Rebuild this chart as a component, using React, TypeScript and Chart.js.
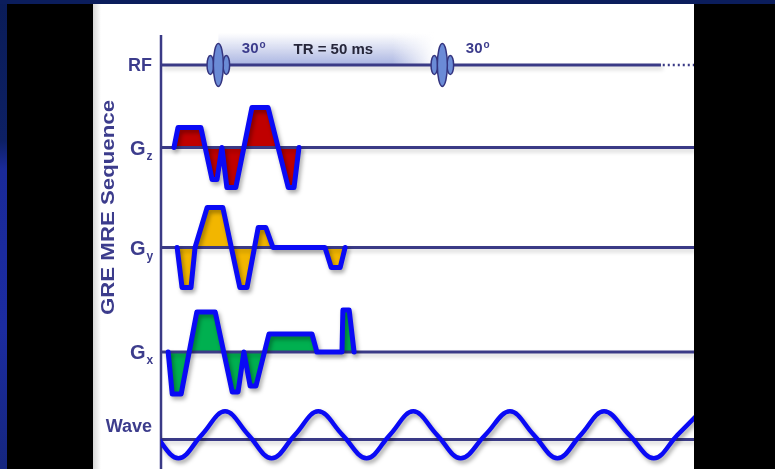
import React, { useEffect, useRef } from 'react';
import { Chart, registerables } from 'chart.js';

Chart.register(...registerables);

// ---------------- data (time in ms, amplitudes in arbitrary units) ----------------
const CHANNELS = ['RF', 'Gz', 'Gy', 'Gx', 'Wave'];
const TITLE = 'GRE MRE Sequence';

const RF_PULSE_T = [12.8, 62.8];
const RF_FLIP_LABELS = ['30', '30'];
const TR_LABEL = 'TR = 50 ms';
const RF_SOLID_END_T = 111.6;
const TIME_END = 119;

const GZ_T = [2.9, 3.8, 8.9, 11.4, 12.5, 13.6, 14.7, 16.7, 20.3, 23.9, 28.4, 29.7, 30.8];
const GZ_AMP = [0, 0.5, 0.5, -0.8, -0.8, 0, -1.0, -1.0, 1.0, 1.0, -1.0, -1.0, 0];

const GY_T = [3.6, 4.7, 6.7, 7.6, 10.3, 13.8, 17.6, 19.2, 21.7, 23.4, 25.0, 36.6, 38.0, 40.0, 41.1];
const GY_AMP = [0, -1.0, -1.0, 0, 1.0, 1.0, -1.0, -1.0, 0.5, 0.5, 0, 0, -0.5, -0.5, 0];

const GX_T = [1.6, 2.5, 4.5, 8.0, 12.1, 15.9, 17.2, 18.5, 19.9, 21.2, 24.1, 33.7, 34.8, 40.4, 40.6, 42.0, 43.1];
const GX_AMP = [0, -1.05, -1.05, 1.0, 1.0, -1.0, -1.0, 0, -0.85, -0.85, 0.45, 0.45, 0, 0, 1.05, 1.05, 0];

const WAVE_T = [-1.4, 3.9, 9.1, 14.3, 19.5, 24.7, 29.9, 35.1, 40.5, 45.9, 51.1, 56.3, 61.6, 66.9, 72.4, 77.9, 83.2, 88.5, 93.7, 98.9, 104.5, 110.0, 115.3, 120.5];
const WAVE_AMP = [0.2, -0.8, 0.2, 1.2, 0.2, -0.8, 0.2, 1.2, 0.2, -0.8, 0.2, 1.2, 0.2, -0.8, 0.2, 1.2, 0.2, -0.8, 0.2, 1.2, 0.2, -0.8, 0.2, 1.2];

// ---------------- layout & style ----------------
const PANEL = { left: 93, top: 4, width: 601, height: 465 };
const AXIS_PX = 68;
const PX_PER_MS = 4.48;
const BASE_PX: Record<string, number> = { RF: 61, Gz: 143.5, Gy: 243.5, Gx: 348, Wave: 435.5 };
const PX_PER_UNIT: Record<string, number> = { RF: 21.5, Gz: 40, Gy: 40, Gx: 40, Wave: 23.5 };
const LABEL_DY: Record<string, number> = { RF: 1, Gz: 1.5, Gy: 2, Gx: 1.5, Wave: -12.5 };

const NAVY = '#3a3a86';
const LABEL_COLOR = '#3c3c8c';
const BLUE = '#0a0af5';
const FILLS: Record<string, string> = { Gz: '#c00000', Gy: '#f2b600', Gx: '#00b050' };
const FONT = '"Liberation Sans", Arial, Helvetica, sans-serif';

const pts = (t: number[], v: number[]) => t.map((x, i) => ({ x, y: v[i] }));

const yScale = (key: string) => ({
  type: 'linear' as const,
  display: false,
  min: -(PANEL.height - BASE_PX[key]) / PX_PER_UNIT[key],
  max: BASE_PX[key] / PX_PER_UNIT[key],
});

const GRADS = [
  { key: 'Gz', t: GZ_T, v: GZ_AMP },
  { key: 'Gy', t: GY_T, v: GY_AMP },
  { key: 'Gx', t: GX_T, v: GX_AMP },
];

const shadowPlugin = {
  id: 'shadow',
  beforeDatasetDraw(chart: any, args: any) {
    const ds = chart.data.datasets[args.index];
    chart.ctx.save();
    if (ds.shadow) {
      chart.ctx.shadowColor = ds.shadow;
      chart.ctx.shadowBlur = 4;
      chart.ctx.shadowOffsetX = 2;
      chart.ctx.shadowOffsetY = 3;
    }
  },
  afterDatasetDraw(chart: any) {
    chart.ctx.restore();
  },
};

function ellipse(ctx: CanvasRenderingContext2D, cx: number, cy: number, rx: number, ry: number) {
  ctx.beginPath();
  ctx.ellipse(cx, cy, rx, ry, 0, 0, Math.PI * 2);
  ctx.fill();
  ctx.stroke();
}

const decorPlugin = {
  id: 'decor',
  beforeDatasetsDraw(chart: any) {
    const ctx: CanvasRenderingContext2D = chart.ctx;
    const x = chart.scales.x;
    const yb = chart.scales.yRF.getPixelForValue(0);
    const x1 = x.getPixelForValue(RF_PULSE_T[0]);
    const x2 = x.getPixelForValue(RF_PULSE_T[1]);
    const top = yb - 32;
    ctx.save();
    const g = ctx.createLinearGradient(0, top, 0, yb);
    g.addColorStop(0, 'rgba(165,176,222,0)');
    g.addColorStop(1, 'rgba(160,172,222,0.9)');
    ctx.fillStyle = g;
    ctx.fillRect(x1, top, x2 - x1, yb - top);
    const h = ctx.createLinearGradient(x2 - 50, 0, x2 - 8, 0);
    h.addColorStop(0, 'rgba(255,255,255,0)');
    h.addColorStop(1, 'rgba(255,255,255,1)');
    ctx.fillStyle = h;
    ctx.fillRect(x2 - 50, top - 1, 51, yb - top + 1);
    // time axis origin line
    const ax = x.getPixelForValue(0);
    ctx.strokeStyle = NAVY;
    ctx.lineWidth = 2.5;
    ctx.beginPath();
    ctx.moveTo(ax, 31);
    ctx.lineTo(ax, chart.height);
    ctx.stroke();
    ctx.restore();
  },
  afterDatasetsDraw(chart: any) {
    const ctx: CanvasRenderingContext2D = chart.ctx;
    const x = chart.scales.x;
    const yb = chart.scales.yRF.getPixelForValue(0);
    ctx.save();
    // RF pulses
    ctx.fillStyle = '#6b8bd6';
    ctx.strokeStyle = '#34347f';
    ctx.lineWidth = 1.5;
    RF_PULSE_T.forEach((t) => {
      const cx = x.getPixelForValue(t);
      ellipse(ctx, cx - 8, yb, 3.3, 9.5);
      ellipse(ctx, cx + 8, yb, 3.3, 9.5);
      ellipse(ctx, cx, yb, 5, 21.5);
    });
    // flip-angle labels
    ctx.textBaseline = 'middle';
    ctx.textAlign = 'left';
    RF_PULSE_T.forEach((t, i) => {
      const cx = x.getPixelForValue(t) + 23.5;
      ctx.fillStyle = LABEL_COLOR;
      ctx.font = `bold 15px ${FONT}`;
      ctx.fillText(RF_FLIP_LABELS[i], cx, yb - 16);
      const w = ctx.measureText(RF_FLIP_LABELS[i]).width;
      ctx.font = `bold 10px ${FONT}`;
      ctx.fillText('o', cx + w + 1, yb - 20);
    });
    ctx.fillStyle = '#26263a';
    ctx.font = `bold 15px ${FONT}`;
    ctx.textAlign = 'center';
    const mid = (x.getPixelForValue(RF_PULSE_T[0]) + x.getPixelForValue(RF_PULSE_T[1])) / 2 + 3;
    ctx.fillText(TR_LABEL, mid, yb - 15);

    // channel labels
    ctx.fillStyle = LABEL_COLOR;
    const right = x.getPixelForValue(0) - 9;
    CHANNELS.forEach((name) => {
      const y = chart.scales['y' + name].getPixelForValue(0) + LABEL_DY[name];
      if (name.length === 2 && name[0] === 'G') {
        ctx.font = `bold 20px ${FONT}`;
        ctx.textAlign = 'right';
        ctx.fillText('G', right - 6.5, y);
        ctx.font = `bold 12px ${FONT}`;
        ctx.textAlign = 'left';
        ctx.fillText(name[1], right - 5.5, y + 7.5);
      } else {
        ctx.font = `bold 18px ${FONT}`;
        ctx.textAlign = 'right';
        ctx.fillText(name, right, y);
      }
    });

    // rotated title
    ctx.font = `bold 19px ${FONT}`;
    const tw = ctx.measureText(TITLE).width;
    ctx.translate(16, 203.5);
    ctx.rotate(-Math.PI / 2);
    ctx.scale(215 / tw, 1);
    ctx.textAlign = 'center';
    ctx.fillText(TITLE, 0, 0);
    ctx.restore();
  },
};

export default function App() {
  const ref = useRef<HTMLCanvasElement>(null);
  useEffect(() => {
    const datasets: any[] = [];
    GRADS.forEach((g) => {
      datasets.push({
        label: g.key + ' area',
        data: pts(g.t, g.v),
        yAxisID: 'y' + g.key,
        borderWidth: 0,
        pointRadius: 0,
        fill: 'origin',
        backgroundColor: FILLS[g.key],
        order: 3,
      });
    });
    CHANNELS.forEach((name) => {
      datasets.push({
        label: name + ' baseline',
        data: [
          { x: 0, y: 0 },
          { x: name === 'RF' ? RF_SOLID_END_T : TIME_END, y: 0 },
        ],
        yAxisID: 'y' + name,
        borderColor: NAVY,
        borderWidth: 3,
        pointRadius: 0,
        fill: false,
        order: 2,
        shadow: 'rgba(0,0,0,0.18)',
      });
    });
    datasets.push({
      label: 'RF continuation',
      data: [
        { x: RF_SOLID_END_T + 0.4, y: 0 },
        { x: TIME_END, y: 0 },
      ],
      yAxisID: 'yRF',
      borderColor: NAVY,
      borderWidth: 2.5,
      borderDash: [2, 3],
      pointRadius: 0,
      fill: false,
      order: 2,
    });
    GRADS.forEach((g) => {
      datasets.push({
        label: g.key,
        data: pts(g.t, g.v),
        yAxisID: 'y' + g.key,
        borderColor: BLUE,
        borderWidth: 5,
        borderJoinStyle: 'round',
        borderCapStyle: 'round',
        pointRadius: 0,
        fill: false,
        order: 1,
        shadow: 'rgba(0,0,0,0.35)',
      });
    });
    datasets.push({
      label: 'Wave',
      data: pts(WAVE_T, WAVE_AMP),
      yAxisID: 'yWave',
      borderColor: BLUE,
      borderWidth: 4.5,
      tension: 0.38,
      pointRadius: 0,
      fill: false,
      order: 1,
      clip: { left: -AXIS_PX, right: 0, top: 0, bottom: 0 },
      shadow: 'rgba(0,0,0,0.35)',
    });

    const chart = new Chart(ref.current!, {
      type: 'line',
      data: { datasets },
      options: {
        animation: false,
        responsive: false,
        devicePixelRatio: 1,
        events: [],
        layout: { padding: 0, autoPadding: false },
        plugins: { legend: { display: false }, tooltip: { enabled: false } },
        scales: {
          x: {
            type: 'linear',
            display: false,
            min: -AXIS_PX / PX_PER_MS,
            max: (PANEL.width - AXIS_PX) / PX_PER_MS,
          },
          yRF: yScale('RF'),
          yGz: yScale('Gz'),
          yGy: yScale('Gy'),
          yGx: yScale('Gx'),
          yWave: yScale('Wave'),
        },
      } as any,
      plugins: [shadowPlugin, decorPlugin],
    });
    return () => chart.destroy();
  }, []);

  return (
    <div
      style={{
        position: 'fixed',
        left: 0,
        top: 0,
        width: 775,
        height: 469,
        overflow: 'hidden',
        background:
          'linear-gradient(180deg, #0a1c58 0%, #0d2064 30%, #1a2a9a 36%, #1c2ca0 70%, #15267f 100%)',
      }}
    >
      <div style={{ position: 'absolute', left: 0, top: 0, width: 775, height: 4, background: '#0b1d5c' }} />
      <div style={{ position: 'absolute', left: 7, top: 4, width: 86, height: 465, background: '#000' }} />
      <div style={{ position: 'absolute', left: 694, top: 4, width: 81, height: 465, background: '#000' }} />
      <div
        style={{
          position: 'absolute',
          left: PANEL.left,
          top: PANEL.top,
          width: PANEL.width,
          height: PANEL.height,
          background: 'linear-gradient(90deg, #d8d8d8 0px, #ffffff 8px)',
        }}
      >
        <canvas ref={ref} width={PANEL.width} height={PANEL.height} style={{ display: 'block', width: PANEL.width, height: PANEL.height }} />
      </div>
    </div>
  );
}
